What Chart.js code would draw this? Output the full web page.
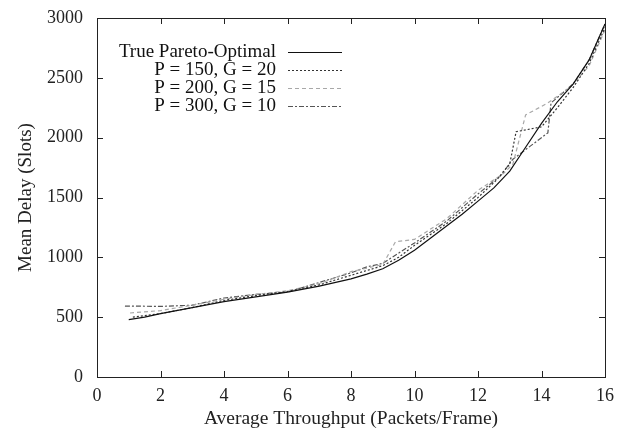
<!DOCTYPE html>
<html>
<head>
  <title>Mean Delay vs Average Throughput</title>
  <script src="https://cdn.jsdelivr.net/npm/chart.js@4.4.1/dist/chart.umd.min.js"></script>
  <style>
    body { margin: 0; background: #fff; }
    #wrap { width: 617px; height: 433px; }
  </style>
</head>
<body>
  <div id="wrap"><canvas id="chart"></canvas></div>
  <script>
    // data
    const seriesLabels = ['True Pareto-Optimal', 'P = 150, G = 20', 'P = 200, G = 15', 'P = 300, G = 10'];

    const trueX = [1.0, 1.5, 2, 3, 4, 5, 6, 7, 8, 8.5, 9, 9.5, 10, 10.5, 11, 11.5, 12, 12.5, 13, 13.5, 14, 14.5, 15, 15.5, 16];
    const trueY = [480, 500, 530, 580, 630, 670, 710, 760, 820, 860, 905, 975, 1060, 1160, 1260, 1360, 1470, 1580, 1720, 1920, 2120, 2300, 2450, 2650, 2950];

    const p150X = [1.13, 2, 3, 4, 5, 6, 7, 8, 9, 9.5, 10, 11, 12, 12.6, 13.0, 13.2, 14.0, 14.5, 15, 15.5, 16];
    const p150Y = [500, 530, 580, 640, 680, 715, 770, 850, 930, 1000, 1100, 1280, 1500, 1650, 1780, 2050, 2090, 2250, 2420, 2620, 2920];

    const p200X = [1.04, 2, 3, 4, 5, 6, 7, 8, 9, 9.4, 10, 11, 12, 12.8, 13.1, 13.5, 14.2, 14.9, 15.5, 16];
    const p200Y = [535, 555, 600, 650, 690, 720, 780, 880, 940, 1130, 1150, 1320, 1560, 1700, 1780, 2190, 2290, 2420, 2600, 2900];

    const p300X = [0.88, 2, 3, 4, 5, 6, 7, 8, 8.5, 9, 10, 11, 12, 12.7, 13.1, 13.5, 14.2, 14.3, 15, 15.5, 16];
    const p300Y = [593, 590, 600, 660, 690, 710, 790, 870, 920, 950, 1120, 1300, 1530, 1680, 1820, 1900, 2040, 2290, 2450, 2650, 2950];

    const xTicks = [0, 2, 4, 6, 8, 10, 12, 14, 16];
    const yTicks = [0, 500, 1000, 1500, 2000, 2500, 3000];

    const FONT = "'Liberation Serif', 'DejaVu Serif', serif";

    function pts(xs, ys) {
      return xs.map((x, i) => ({ x: x, y: ys[i] }));
    }

    // gnuplot style frame, inward ticks and a legend with samples on the right
    const framePlugin = {
      id: 'frame',
      afterDraw(chart) {
        const ctx = chart.ctx;
        const a = chart.chartArea;
        const xs = chart.scales.x, ys = chart.scales.y;
        ctx.save();
        ctx.strokeStyle = '#222';
        ctx.lineWidth = 1;
        ctx.strokeRect(a.left + 0.5, a.top + 0.5, a.right - a.left, a.bottom - a.top);
        ctx.beginPath();
        xTicks.forEach(v => {
          const px = Math.round(xs.getPixelForValue(v)) + 0.5;
          ctx.moveTo(px, a.bottom); ctx.lineTo(px, a.bottom - 6);
          ctx.moveTo(px, a.top); ctx.lineTo(px, a.top + 6);
        });
        yTicks.forEach(v => {
          const py = Math.round(ys.getPixelForValue(v)) + 0.5;
          ctx.moveTo(a.left, py); ctx.lineTo(a.left + 6, py);
          ctx.moveTo(a.right, py); ctx.lineTo(a.right - 6, py);
        });
        ctx.stroke();

        // legend
        ctx.font = '19px ' + FONT;
        ctx.textAlign = 'right';
        ctx.textBaseline = 'middle';
        ctx.fillStyle = '#111';
        chart.data.datasets.forEach((ds, i) => {
          const y = 52 + i * 18;
          ctx.fillText(ds.label, 276, y);
          ctx.beginPath();
          ctx.strokeStyle = ds.borderColor;
          ctx.lineWidth = ds.borderWidth;
          ctx.setLineDash(ds.borderDash || []);
          ctx.moveTo(288, Math.round(y) + 0.5);
          ctx.lineTo(342, Math.round(y) + 0.5);
          ctx.stroke();
        });
        ctx.restore();
      }
    };

    new Chart(document.getElementById('chart'), {
      type: 'line',
      data: {
        datasets: [
          { label: seriesLabels[0], data: pts(trueX, trueY), borderColor: '#111', borderWidth: 1.2, borderDash: [] },
          { label: seriesLabels[1], data: pts(p150X, p150Y), borderColor: '#333', borderWidth: 1.2, borderDash: [2, 2] },
          { label: seriesLabels[2], data: pts(p200X, p200Y), borderColor: '#a8a8a8', borderWidth: 1.2, borderDash: [4, 3] },
          { label: seriesLabels[3], data: pts(p300X, p300Y), borderColor: '#555', borderWidth: 1.2, borderDash: [5, 2, 2, 2] }
        ]
      },
      options: {
        responsive: true,
        maintainAspectRatio: false,
        animation: false,
        layout: { padding: { top: 18, right: 12, left: 0, bottom: 0 } },
        elements: { point: { radius: 0 }, line: { tension: 0 } },
        plugins: { legend: { display: false }, tooltip: { enabled: false } },
        scales: {
          x: {
            type: 'linear',
            min: 0, max: 16,
            afterFit(scale) {
              scale.height = 56;
              scale.paddingLeft = 0; scale.paddingRight = 0;
            },
            afterBuildTicks(scale) { scale.ticks = xTicks.map(v => ({ value: v })); },
            grid: { display: false, drawTicks: false },
            border: { display: false },
            ticks: { color: '#222', padding: 8, font: { family: FONT, size: 18 } },
            title: { display: true, text: 'Average Throughput (Packets/Frame)', color: '#222',
                     padding: { top: 0, bottom: 2 }, font: { family: FONT, size: 19.5 } }
          },
          y: {
            min: 0, max: 3000,
            afterFit(scale) {
              scale.width = 97;
              scale.paddingTop = 0; scale.paddingBottom = 0;
            },
            afterBuildTicks(scale) { scale.ticks = yTicks.map(v => ({ value: v })); },
            grid: { display: false, drawTicks: false },
            border: { display: false },
            ticks: { color: '#222', padding: 14, font: { family: FONT, size: 18 },
                     callback: v => String(v) },
            title: { display: true, text: 'Mean Delay (Slots)', color: '#222',
                     padding: { top: 15, bottom: 0 }, font: { family: FONT, size: 19 } }
          }
        }
      },
      plugins: [framePlugin]
    });
  </script>
</body>
</html>
